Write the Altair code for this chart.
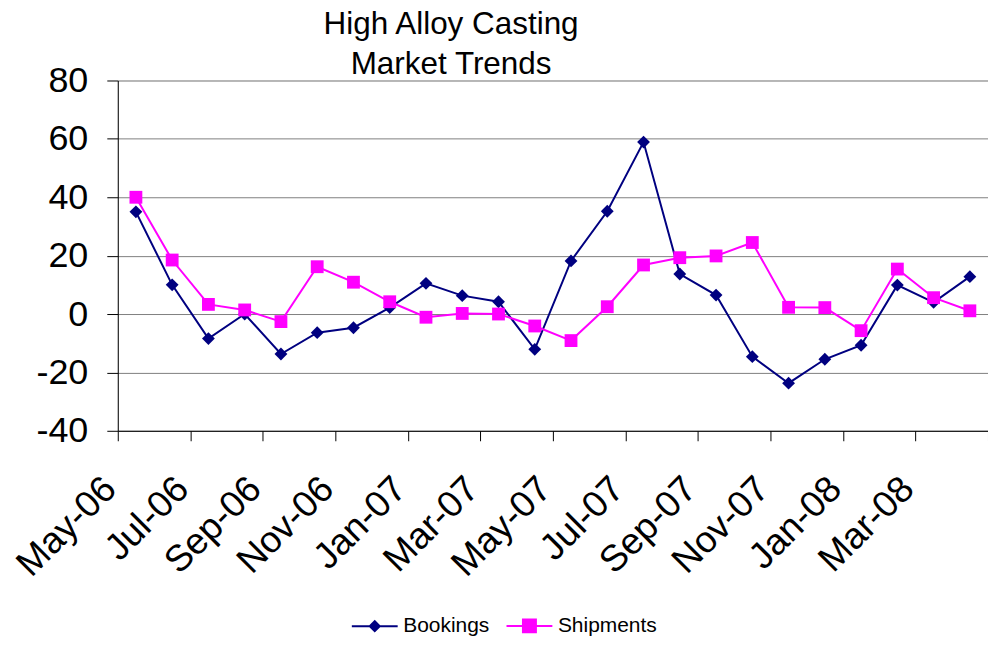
import json
import altair as alt
import pandas as pd

months = ["May-06", "Jun-06", "Jul-06", "Aug-06", "Sep-06", "Oct-06", "Nov-06", "Dec-06",
          "Jan-07", "Feb-07", "Mar-07", "Apr-07", "May-07", "Jun-07", "Jul-07", "Aug-07",
          "Sep-07", "Oct-07", "Nov-07", "Dec-07", "Jan-08", "Feb-08", "Mar-08", "Apr-08"]
bookings = [35.0, 10.0, -8.4, 0.0, -13.7, -6.4, -4.7, 2.2, 10.5, 6.3, 4.2, -12.1,
            18.2, 35.2, 58.9, 13.7, 6.5, -14.6, -23.7, -15.5, -10.7, 9.9, 4.0, 12.8]
shipments = [40.0, 18.5, 3.3, 1.4, -2.6, 16.2, 10.9, 4.2, -1.1, 0.2, 0.0, -4.1,
             -9.1, 2.5, 16.8, 19.3, 19.9, 24.5, 2.3, 2.2, -5.7, 15.4, 5.6, 1.1]
tick_labels = ["May-06", "Jul-06", "Sep-06", "Nov-06", "Jan-07", "Mar-07", "May-07",
               "Jul-07", "Sep-07", "Nov-07", "Jan-08", "Mar-08", ""]
y_ticks = [-40, -20, 0, 20, 40, 60, 80]
series = ["Bookings", "Shipments"]
colors = ["#000080", "#FF00FF"]
markers = ["diamond", "square"]
title_lines = ["High Alloy Casting", "Market Trends"]

FONT = "Liberation Sans, Arial, sans-serif"

rows = []
for i, m in enumerate(months):
    rows.append({"i": i, "month": m, "series": series[0], "value": bookings[i]})
    rows.append({"i": i, "month": m, "series": series[1], "value": shipments[i]})
df = pd.DataFrame(rows)

x_tick_values = [-0.5 + 2 * k for k in range(len(tick_labels))]
label_expr = f"{json.dumps(tick_labels)}[round((datum.value + 0.5) / 2)]"

x_enc = alt.X(
    "i:Q",
    scale=alt.Scale(domain=[-0.5, len(months) - 0.5], nice=False, zero=False),
    axis=alt.Axis(
        values=x_tick_values, labelExpr=label_expr, title=None, grid=False,
        labelAngle=-45, labelAlign="right", labelBaseline="alphabetic",
        labelPadding=50, tickSize=10, labelFontSize=37, labelFont=FONT,
        labelColor="black", domainColor="black", tickColor="black",
        labelOverlap=False, labelFlush=False, labelBound=False,
    ),
)
y_enc = alt.Y(
    "value:Q",
    scale=alt.Scale(domain=[-40, 80], nice=False, zero=False),
    axis=alt.Axis(
        values=y_ticks, title=None, grid=True, gridColor="#808080", gridWidth=1,
        tickSize=11, labelPadding=19, labelFontSize=36, labelFont=FONT,
        labelColor="black", domainColor="black", tickColor="black",
        labelFlush=False, labelOverlap=False, labelExpr="datum.value + ''",
    ),
)

base = alt.Chart(df)

layers = []
for s, c, mk in zip(series, colors, markers):
    sub = base.transform_filter(f"datum.series == '{s}'")
    layers.append(sub.mark_line(strokeWidth=2, color=c).encode(x=x_enc, y=y_enc))
    layers.append(sub.mark_point(shape=mk, filled=True, size=165, color=c, opacity=1)
                  .encode(x=x_enc, y=y_enc))

legend_paths = [
    "M-4,0L4,0M-0.87,0L0,-0.87L0.87,0L0,0.87Z",
    "M-4,0L4,0M-1.13,-1.13L1.13,-1.13L1.13,1.13L-1.13,1.13Z",
]

legend_layer = base.mark_point(
    filled=True, strokeWidth=2, opacity=0
).encode(
    x=x_enc, y=y_enc,
    shape=alt.Shape(
        "series:N",
        scale=alt.Scale(domain=series, range=legend_paths),
        legend=alt.Legend(
            title=None, orient="none", legendX=247, legendY=536,
            direction="horizontal", labelFontSize=21, labelFont=FONT,
            labelColor="black", symbolSize=132, symbolStrokeWidth=2,
            labelOffset=18, columnPadding=12, padding=0, symbolOpacity=1,
        ),
    ),
    fill=alt.Fill("series:N", scale=alt.Scale(domain=series, range=colors)),
    stroke=alt.Stroke("series:N", scale=alt.Scale(domain=series, range=colors)),
)
layers.append(legend_layer)

chart = alt.layer(*layers).properties(
    width=872,
    height=351,
    title=alt.TitleParams(
        text=title_lines, fontSize=31.5, font=FONT, fontWeight="normal",
        lineHeight=40, anchor="middle", dx=-102, offset=-18, color="black",
    ),
    autosize=alt.AutoSizeParams(type="none"),
    padding={"left": 110, "top": 72, "right": 0, "bottom": 212},
).configure_view(
    stroke="#808080", strokeWidth=1
).configure(
    background="white"
)

chart.save("out.html", embed_options={"renderer": "svg", "actions": False})
